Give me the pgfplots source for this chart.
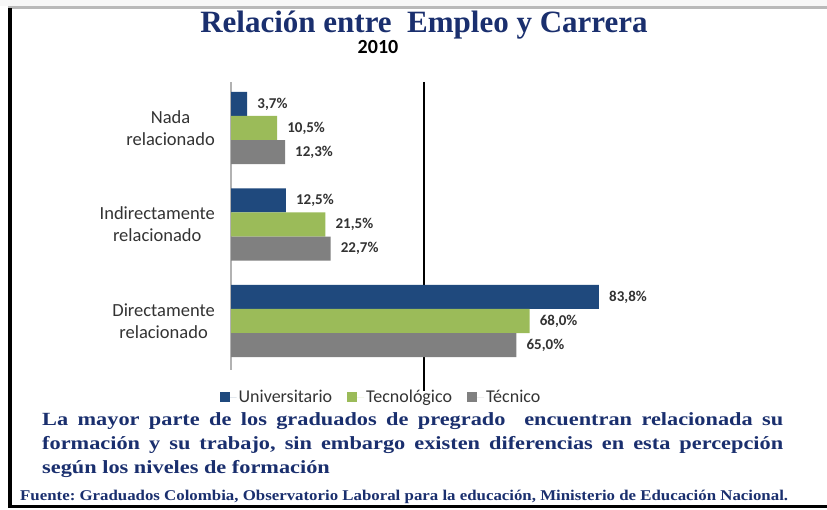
\documentclass[border=0pt]{standalone}
\usepackage{pgfplots}
\pgfplotsset{compat=1.18}
\usepackage{fontspec}
\setmainfont{Liberation Serif}
\newfontfamily\calibri{Carlito}
\newfontfamily\wideserif[FakeStretch=1.13]{Liberation Serif}
\newfontfamily\widerserif[FakeStretch=1.2]{Liberation Serif}
\definecolor{uni}{HTML}{1F497D}
\definecolor{tec}{HTML}{9BBB59}
\definecolor{tcn}{HTML}{808080}
\definecolor{navy}{HTML}{1A2F6E}
\definecolor{lab}{HTML}{333333}
\frenchspacing
\begin{document}
\begin{tikzpicture}[x=1pt,y=1pt]
\useasboundingbox (0,0) rectangle (827,-510);
\fill[white] (0,0) rectangle (827,-510);
\fill[gray!6] (0,0) rectangle (827,-6);
\fill[gray!55] (8,-6) rectangle (827,-9);
\fill[black] (8,-8) rectangle (12,-508);
\fill[black] (8,-504.5) rectangle (827,-508);
\draw[black, line width=2.2pt] (424,-82) -- (424,-391);
\node[anchor=base, inner sep=0, font=\fontsize{31}{36}\selectfont\bfseries, text=navy] at (424,-33) {Relación entre\ \ Empleo y Carrera};
\node[anchor=base, inner sep=0, font=\calibri\bfseries\fontsize{20}{24}\selectfont] at (378,-54) {2010};
\begin{axis}[
  at={(231pt,-370pt)}, anchor=south west,
  scale only axis, width=395.2pt, height=288pt,
  xmin=0, xmax=90, ymin=-0.4767, ymax=2.5078,
  y dir=reverse,
  xbar, bar width=0.25,
  clip=false,
  axis x line=none,
  axis y line=left,
  y axis line style={-, draw=gray!60, line width=1.2pt},
  major tick length=0pt,
  ytick={0,1,2},
  yticklabels={{Nada\\relacionado},{Indirectamente\\relacionado},{Directamente\\relacionado}},
  yticklabel style={align=center, inner sep=0pt, xshift=-16pt, text=lab,
    font=\calibri\fontsize{18.5}{22}\selectfont},
  nodes near coords={\pgfmathprintnumber[fixed,fixed zerofill,precision=1,use comma,assume math mode=true]{\pgfplotspointmeta}\%},
  nodes near coords align=horizontal,
  every node near coord/.append style={font=\calibri\bfseries\fontsize{15}{18}\selectfont, text=lab, inner sep=0pt, xshift=10pt, anchor=west},
  legend columns=3,
  legend style={at={(0.3796,-0.094)}, anchor=center, draw=none, fill=none,
    font=\calibri\fontsize{18}{20}\selectfont, text=lab,
    /tikz/every even column/.append style={column sep=13pt}},
  legend image code/.code={\fill[#1,draw=none] (0pt,-5pt) rectangle (10pt,5pt); \path (10pt,0pt) -- (17pt,0pt);},
]
\addplot[fill=uni, draw=none, bar shift=-0.25] coordinates {(3.7,0) (12.5,1) (83.8,2)};
\addplot[fill=tec, draw=none, bar shift=0] coordinates {(10.5,0) (21.5,1) (68.0,2)};
\addplot[fill=tcn, draw=none, bar shift=0.25] coordinates {(12.3,0) (22.7,1) (65.0,2)};
\legend{Universitario, Tecnológico, Técnico}
\end{axis}
\node[anchor=north west, inner sep=0, text width=741pt, align=justify, text=navy,
  font=\widerserif\bfseries\fontsize{18.6}{24}\selectfont] at (42,-412.5)
  {La mayor parte de los graduados de pregrado\ \ encuentran relacionada su\linebreak
   formación y su trabajo, sin embargo existen diferencias en esta percepción\linebreak
   según los niveles de formación};
\node[anchor=base west, inner sep=0, text=navy, font=\wideserif\bfseries\fontsize{14.9}{18}\selectfont] at (20,-500)
  {Fuente: Graduados Colombia, Observatorio Laboral para la educación, Ministerio de Educación Nacional.};
\end{tikzpicture}
\end{document}
